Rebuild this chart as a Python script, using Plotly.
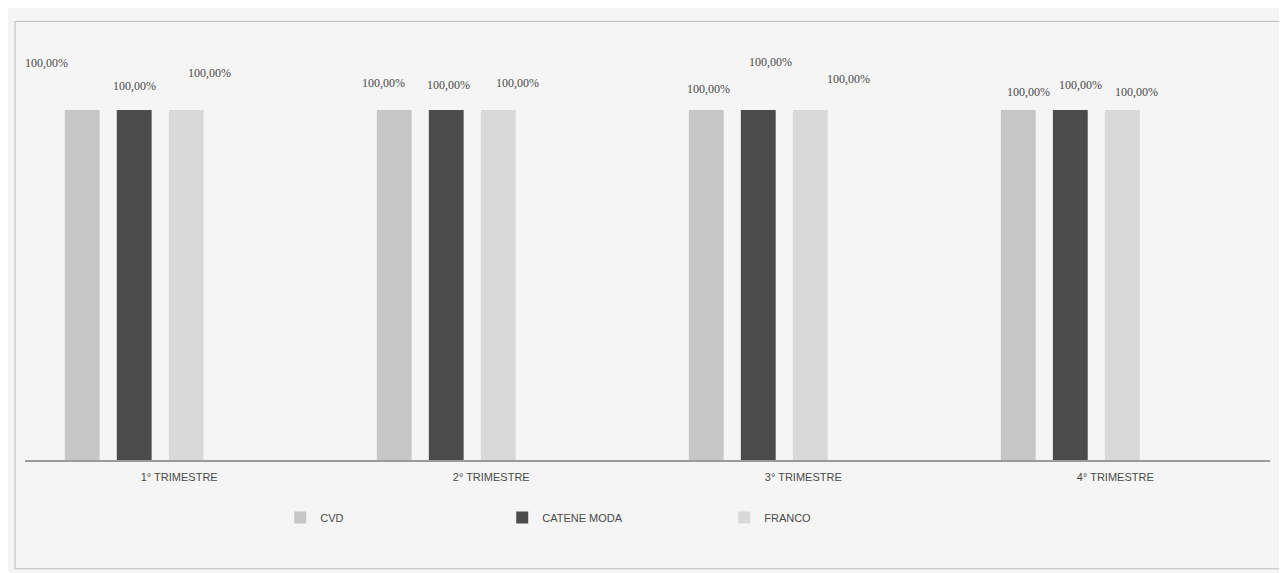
import plotly.graph_objects as go

categories = ["1° TRIMESTRE", "2° TRIMESTRE", "3° TRIMESTRE", "4° TRIMESTRE"]
series_names = ["CVD", "CATENE MODA", "FRANCO"]
cvd = [100.0, 100.0, 100.0, 100.0]
catene_moda = [100.0, 100.0, 100.0, 100.0]
franco = [100.0, 100.0, 100.0, 100.0]
series_values = [cvd, catene_moda, franco]

colors = ["#c6c6c6", "#4b4b4b", "#d9d9d9"]

# label offsets (px) per series, per category, relative to bar top centre
label_shift = [
    [(-36, 42), (-11, 22), (2, 16), (10, 13)],
    [(0, 19), (2, 20), (12, 43), (10, 20)],
    [(23, 32), (19, 22), (38, 26), (14, 13)],
]

fig = go.Figure()
n = len(series_names)
for i, (name, vals) in enumerate(zip(series_names, series_values)):
    fig.add_trace(go.Bar(
        x=categories, y=vals, name=name,
        marker=dict(color=colors[i], line=dict(width=0)),
        offsetgroup=str(i),
    ))

# data labels as annotations positioned by the axes
slot = 0.5 / n
for i, vals in enumerate(series_values):
    for j, v in enumerate(vals):
        dx, dy = label_shift[i][j]
        fig.add_annotation(
            x=j + (i - (n - 1) / 2) * slot, y=v, xref="x", yref="y",
            text=f"{v:.2f}%".replace(".", ","),
            showarrow=False, yanchor="bottom", xshift=dx, yshift=dy - 4,
            font=dict(family="Liberation Serif, serif", size=12, color="#4a4a4a"),
        )

fig.update_layout(
    width=1287, height=573,
    paper_bgcolor="#f5f5f5", plot_bgcolor="#f5f5f5",
    margin=dict(l=17, r=25, t=22, b=121),
    barmode="group", bargap=0.5, bargroupgap=0.33,
    showlegend=True,
    legend=dict(orientation="h", x=0.205, xanchor="left", y=-0.10, yanchor="top",
                entrywidth=177, entrywidthmode="pixels",
                font=dict(family="Liberation Sans Narrow, Arial Narrow, sans-serif", size=11, color="#4a4a4a"),
                itemwidth=30, bgcolor="rgba(0,0,0,0)"),
    font=dict(family="Liberation Sans Narrow, Arial Narrow, sans-serif", size=11, color="#4a4a4a"),
)
fig.update_xaxes(
    type="category", range=[-0.35, 3.64],
    showline=True, linecolor="#9a9a9a", linewidth=1.5,
    showgrid=False, ticks="", ticklabelshift=45, ticklabelstandoff=6,
    tickfont=dict(family="Liberation Sans Narrow, Arial Narrow, sans-serif", size=11, color="#4a4a4a"),
)
fig.update_yaxes(range=[0, 122.9], visible=False, showgrid=False)

fig.add_shape(type="rect", xref="paper", yref="paper",
              x0=-0.008, x1=1.02, y0=-0.253, y1=1.02,
              line=dict(color="#bdbdbd", width=1))

fig.write_html("out.html")
